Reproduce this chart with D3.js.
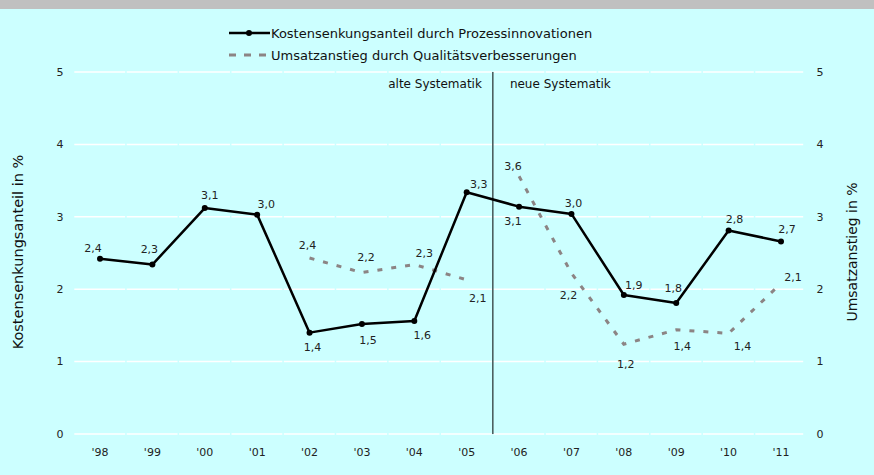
<!DOCTYPE html>
<meta charset="utf-8">
<style>
  body { margin: 0; background: #ccffff; }
  svg { display: block; font-family: "DejaVu Sans", Verdana, sans-serif; }
  .grid line { stroke: #fff; stroke-width: 1.5; }
  .tick-label { font-size: 11px; fill: #222; }
</style>
<svg width="874" height="475"></svg>
<script src="https://d3js.org/d3.v7.min.js"></script>
<script>

var years = ["'98", "'99", "'00", "'01", "'02", "'03", "'04", "'05", "'06", "'07", "'08", "'09", "'10", "'11"];
var kosten = [2.42, 2.34, 3.12, 3.03, 1.40, 1.52, 1.56, 3.34, 3.14, 3.04, 1.92, 1.81, 2.81, 2.66];
var umsatzAlt = [null, null, null, null, 2.43, 2.23, 2.34, 2.13, null, null, null, null, null, null];
var umsatzNeu = [null, null, null, null, null, null, null, null, 3.56, 2.22, 1.24, 1.44, 1.39, 2.08];
var yTicks = [0, 1, 2, 3, 4, 5];
var legendLabels = ["Kostensenkungsanteil durch Prozessinnovationen", "Umsatzanstieg durch Qualitätsverbesserungen"];

// label offsets (text centre relative to point)
var kostenOff = [[-7,-11],[-3,-15],[5,-13],[9,-10],[3,15],[6,16],[8,14],[12,-8],[-6,14],[2,-11],[10,-10],[-3,-15],[6,-11],[6,-12]];
var umsatzOff = [null,null,null,null,[-2,-13],[4,-15],[10,-11],[11,18],[-6,-10],[-3,22],[2,20],[6,16],[14,13],[12,-6]];

var svg = d3.select("svg");

svg.append("rect").attr("width", 874).attr("height", 9).attr("fill", "#c0c0c0");

var x = d3.scalePoint().domain(years).range([100, 781]);
var y = d3.scaleLinear().domain([0, 5]).range([434, 72]);
var fmt = function(v) { return d3.format(".1f")(v).replace(".", ","); };

// gridlines, broken at each category boundary
var step = x.step();
svg.append("g").attr("class", "grid")
  .selectAll("line").data(yTicks).enter().append("line")
    .attr("x1", x(years[0]) - step / 2 + 0.5)
    .attr("x2", x(years[years.length - 1]) + step / 2 - 4)
    .attr("y1", function(d) { return y(d); })
    .attr("y2", function(d) { return y(d); })
    .attr("stroke-dasharray", (step - 1.5) + ",1.5");

// y tick labels both sides
[60, 820].forEach(function(px) {
  svg.append("g").selectAll("text").data(yTicks).enter().append("text")
    .attr("class", "tick-label")
    .attr("x", px)
    .attr("y", function(d) { return y(d); })
    .attr("dy", "0.35em")
    .attr("text-anchor", "middle")
    .text(function(d) { return d; });
});

svg.append("g").selectAll("text").data(years).enter().append("text")
    .attr("class", "tick-label")
    .attr("x", function(d) { return x(d); })
    .attr("y", 452)
    .attr("dy", "0.35em")
    .attr("text-anchor", "middle")
    .text(function(d) { return d; });

// axis titles
svg.append("text")
    .attr("transform", "translate(18,252) rotate(-90)")
    .attr("text-anchor", "middle")
    .attr("dy", "0.35em")
    .attr("font-size", 14.5)
    .attr("fill", "#111")
    .text("Kostensenkungsanteil in %");

svg.append("text")
    .attr("transform", "translate(852,252) rotate(-90)")
    .attr("text-anchor", "middle")
    .attr("dy", "0.35em")
    .attr("font-size", 14)
    .attr("fill", "#111")
    .text("Umsatzanstieg in %");

// break between old and new methodology
var bx = (x("'05") + x("'06")) / 2;
svg.append("line")
    .attr("x1", bx).attr("x2", bx)
    .attr("y1", y(5)).attr("y2", y(0))
    .attr("stroke", "#000").attr("stroke-width", 1);

svg.append("text").attr("x", bx - 11).attr("y", 84).attr("dy", "0.35em")
    .attr("text-anchor", "end").attr("font-size", 12).attr("fill", "#111")
    .text("alte Systematik");
svg.append("text").attr("x", bx + 17).attr("y", 84).attr("dy", "0.35em")
    .attr("text-anchor", "start").attr("font-size", 12).attr("fill", "#111")
    .text("neue Systematik");

var line = d3.line()
    .defined(function(d) { return d != null; })
    .x(function(d, i) { return x(years[i]); })
    .y(function(d) { return y(d); });

[umsatzAlt, umsatzNeu].forEach(function(s) {
  svg.append("path")
      .datum(s)
      .attr("d", line)
      .attr("fill", "none")
      .attr("stroke", "#8c8484")
      .attr("stroke-width", 3)
      .attr("stroke-dasharray", "5,9");
});

svg.append("path")
    .datum(kosten)
    .attr("d", line)
    .attr("fill", "none")
    .attr("stroke", "#000")
    .attr("stroke-width", 2.5)
    .attr("stroke-linejoin", "round");

svg.append("g").selectAll("circle").data(kosten).enter().append("circle")
    .attr("cx", function(d, i) { return x(years[i]); })
    .attr("cy", function(d) { return y(d); })
    .attr("r", 3)
    .attr("fill", "#000");

// data labels
svg.append("g").selectAll("text").data(kosten).enter().append("text")
    .attr("class", "tick-label")
    .attr("x", function(d, i) { return x(years[i]) + kostenOff[i][0]; })
    .attr("y", function(d, i) { return y(d) + kostenOff[i][1]; })
    .attr("dy", "0.35em")
    .attr("text-anchor", "middle")
    .text(fmt);

var umsatz = [];
years.forEach(function(yr, i) {
  var v = umsatzAlt[i] != null ? umsatzAlt[i] : umsatzNeu[i];
  if (v != null) umsatz.push({year: yr, value: v, off: umsatzOff[i]});
});
svg.append("g").selectAll("text").data(umsatz).enter().append("text")
    .attr("class", "tick-label")
    .attr("x", function(d) { return x(d.year) + d.off[0]; })
    .attr("y", function(d) { return y(d.value) + d.off[1]; })
    .attr("dy", "0.35em")
    .attr("text-anchor", "middle")
    .text(function(d) { return fmt(d.value); });

// legend
var lg = svg.append("g").attr("font-size", 13).attr("fill", "#111");
lg.append("line").attr("x1", 229).attr("x2", 270).attr("y1", 33).attr("y2", 33)
    .attr("stroke", "#000").attr("stroke-width", 2.5);
lg.append("circle").attr("cx", 249).attr("cy", 33).attr("r", 3).attr("fill", "#000");
lg.append("line").attr("x1", 229).attr("x2", 267).attr("y1", 55).attr("y2", 55)
    .attr("stroke", "#8c8484").attr("stroke-width", 3).attr("stroke-dasharray", "7,8");
lg.selectAll("text").data(legendLabels).enter().append("text")
    .attr("x", 271)
    .attr("y", function(d, i) { return 33 + i * 22; })
    .attr("dy", "0.35em")
    .text(function(d) { return d; });

</script>
